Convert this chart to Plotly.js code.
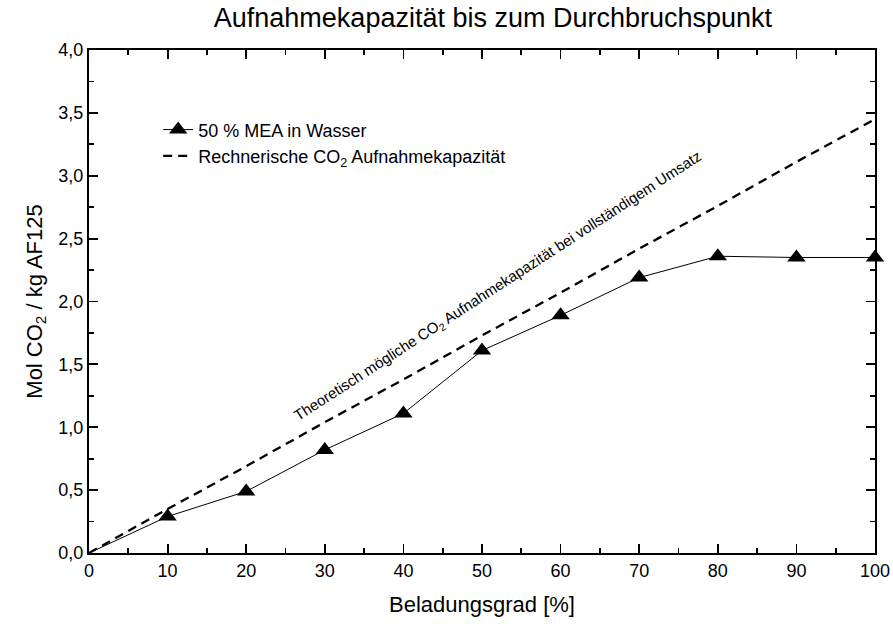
<!DOCTYPE html>
<html>
<head>
<meta charset="utf-8">
<script src="https://cdn.plot.ly/plotly-3.0.1.min.js"></script>
<style>html,body{margin:0;padding:0;background:#fff;}#chart{width:893px;height:627px;}</style>
</head>
<body>
<div id="chart"></div>
<script>
const beladung = [0, 10, 20, 30, 40, 50, 60, 70, 80, 90, 100];
const meaWasser = [0, 0.29, 0.49, 0.82, 1.11, 1.61, 1.89, 2.19, 2.36, 2.35, 2.35];
const rechnerisch = [0, 0.35, 0.69, 1.04, 1.38, 1.73, 2.07, 2.42, 2.76, 3.11, 3.45];
const seriesNames = ["50 % MEA in Wasser", "Rechnerische CO<sub>2</sub> Aufnahmekapazität"];
const annotationText = "Theoretisch mögliche CO<sub>2</sub> Aufnahmekapazität bei vollständigem Umsatz";

const font = "Liberation Sans, Arial, sans-serif";

// measured points (origin has no marker; it is only the start of the connecting line)
const measX = beladung.filter((v, i) => i > 0);
const measY = meaWasser.filter((v, i) => i > 0);

const traces = [
  {
    x: beladung.slice(0, 2), y: meaWasser.slice(0, 2), type: "scatter", mode: "lines",
    line: {color: "#000", width: 1}, showlegend: false, hoverinfo: "skip"
  },
  {
    x: measX, y: measY, name: seriesNames[0], type: "scatter", mode: "lines+markers",
    line: {color: "#000", width: 1},
    marker: {symbol: "triangle-up", color: "#000", size: 16},
    cliponaxis: false
  },
  {
    x: beladung, y: rechnerisch, name: seriesNames[1], type: "scatter", mode: "lines",
    line: {color: "#000", width: 2.3, dash: "9px,6px"}
  }
];

const axisCommon = {
  showgrid: false, zeroline: false, showline: true, linecolor: "#000", linewidth: 2,
  mirror: "ticks", ticks: "inside", ticklen: 9, tickwidth: 1.8, tickcolor: "#000",
  tickfont: {family: font, size: 18, color: "#000"}
};

const layout = {
  width: 893, height: 627,
  margin: {l: 89, r: 18, t: 50, b: 74},
  paper_bgcolor: "#fff", plot_bgcolor: "#fff",
  separators: ", ",
  font: {family: font, color: "#000"},
  title: {text: "Aufnahmekapazität bis zum Durchbruchspunkt", font: {family: font, size: 27, color: "#000"}, x: 0.552, xanchor: "center", y: 0.987, yanchor: "top"},
  xaxis: Object.assign({}, axisCommon, {
    range: [0, 100], dtick: 10, tick0: 0,
    minor: {ticks: "inside", ticklen: 5, dtick: 5, tickwidth: 1.8, tickcolor: "#000"},
    title: {text: "Beladungsgrad [%]", font: {family: font, size: 22, color: "#000"}, standoff: 17}
  }),
  yaxis: Object.assign({}, axisCommon, {
    range: [0, 4], dtick: 0.5, tick0: 0, tickformat: ".1f",
    minor: {ticks: "inside", ticklen: 5, dtick: 0.25, tickwidth: 1.8, tickcolor: "#000"},
    title: {text: "Mol CO<sub>2</sub> / kg AF125", font: {family: font, size: 22, color: "#000"}, standoff: 10}
  }),
  showlegend: true,
  legend: {
    x: 0.088, y: 0.878, xanchor: "left", yanchor: "top",
    bgcolor: "rgba(0,0,0,0)", borderwidth: 0,
    font: {family: font, size: 18, color: "#000"},
    tracegroupgap: 0, itemwidth: 30
  },
  annotations: [{
    x: 52, y: 2.12, xref: "x", yref: "y", text: annotationText, showarrow: false,
    textangle: -33, font: {family: font, size: 15, color: "#000"}
  }]
};

Plotly.newPlot("chart", traces, layout, {displayModeBar: false, staticPlot: true});
</script>
</body>
</html>
